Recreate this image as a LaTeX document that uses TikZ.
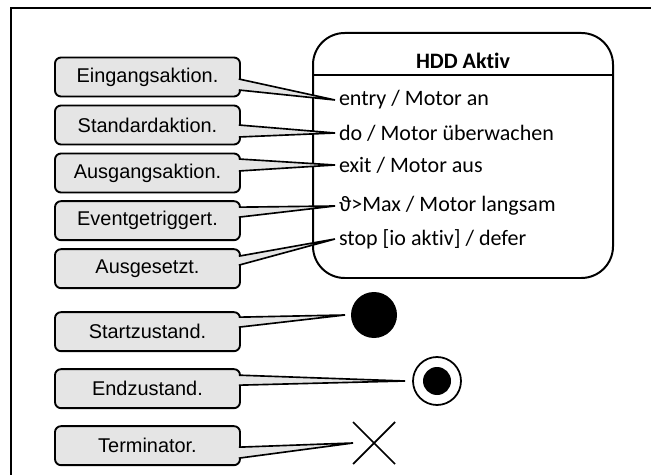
\documentclass[tikz,border=0pt]{standalone}
\usepackage{fontspec}
\setmainfont{Liberation Sans}
\newfontfamily\statefont[Ligatures=NoCommon]{Carlito}
\usetikzlibrary{positioning}
\usetikzlibrary{calc}
\usetikzlibrary{shapes.misc}

\tikzset{
  % grey notes on the left
  note/.style={draw, line width=1.6pt, fill=black!10, rounded corners=1.8mm,
    minimum width=55.5mm, minimum height=11.7mm, inner sep=0pt, outer sep=0pt,
    font=\fontsize{17}{20}\selectfont},
  % the wedge from a note to what it explains
  pointer/.style={draw, fill=black!10, line width=1.4pt},
  % the state box
  statebox/.style={draw, line width=1.7pt, rounded corners=9.5mm,
    minimum width=90mm, minimum height=73.5mm},
  % one line inside the state
  act/.style={anchor=west, inner sep=0pt, outer sep=1.2mm,
    font=\statefont\fontsize{18.8}{22}\selectfont},
}

\begin{document}
\begin{tikzpicture}[x=0.3mm, y=-0.3mm]
  \useasboundingbox (0,0) rectangle (651,475);
  % frame
  \draw[line width=1.4pt] (651,8) -- (11,8) -- (11,475);

  % state and its internal actions
  \node[statebox] (hdd) at (463,155.5) {};
  \node[font=\statefont\bfseries\fontsize{18.8}{22}\selectfont] (title) at (463,61) {HDD Aktiv};
  \draw[line width=1.5pt] ($(hdd.north west)+(0,43)$) -- ($(hdd.north east)+(0,43)$);
  \node[act] (entry) at (335,100) {entry / Motor an};
  \node[act] (do) at (335,133) {do / Motor überwachen};
  \node[act] (exit) at (335,165) {exit / Motor aus};
  \node[act] (event) at (335,206) {ϑ>Max / Motor langsam};
  \node[act] (defer) at (335,239) {stop [io aktiv] / defer};

  % pseudo states
  \node[circle, fill, minimum size=13.8mm, inner sep=0pt, outer sep=1.8mm] (start) at (374,315) {};
  \node[circle, draw, line width=1.5pt, minimum size=14.4mm, inner sep=0pt, outer sep=2.4mm] (final) at (437,381) {};
  \node[circle, fill, minimum size=8.4mm, inner sep=0pt] (finalcore) at (final.center) {};
  \node[cross out, draw, line width=1.5pt, minimum size=11.4mm, inner sep=0pt, outer sep=0.6mm] (term) at (374,443) {};

  % notes
  \node[note] (eing) at (147.5,77) {Eingangsaktion.};
  \node[note, below=2.7mm of eing] (std) {Standardaktion.};
  \node[note, below=2.7mm of std] (ausg) {Ausgangsaktion.};
  \node[note, below=2.6mm of ausg] (evt) {Eventgetriggert.};
  \node[note, below=2.7mm of evt] (susp) {Ausgesetzt.};
  \node[note, below=7.2mm of susp] (startn) {Startzustand.};
  \node[note, below=5.4mm of startn] (endn) {Endzustand.};
  \node[note, below=5.4mm of endn] (termn) {Terminator.};

  % wedges
  \filldraw[pointer] ($(eing.east)+(-1.2,2)$) -- (entry.west) -- ($(eing.east)+(-1.2,13)$);
  \filldraw[pointer] ($(std.east)+(-1.2,0)$) -- (do.west) -- ($(std.east)+(-1.2,12)$);
  \filldraw[pointer] ($(ausg.east)+(-1.2,-14)$) -- (exit.west) -- ($(ausg.east)+(-1.2,-2)$);
  \filldraw[pointer] ($(evt.east)+(-1.2,-13.5)$) -- (event.west) -- ($(evt.east)+(-1.2,-3.5)$);
  \filldraw[pointer] ($(susp.east)+(-1.2,-12.5)$) -- (defer.west) -- ($(susp.east)+(-1.2,-3.5)$);
  \filldraw[pointer] ($(startn.east)+(-1.2,-14.5)$) -- (start.west) -- ($(startn.east)+(-1.2,-4.5)$);
  \filldraw[pointer] ($(endn.east)+(-1.2,-13.5)$) -- (final.west) -- ($(endn.east)+(-1.2,-3.5)$);
  \filldraw[pointer] ($(termn.east)+(-1.2,1.5)$) -- (term.west) -- ($(termn.east)+(-1.2,12.5)$);
\end{tikzpicture}
\end{document}
